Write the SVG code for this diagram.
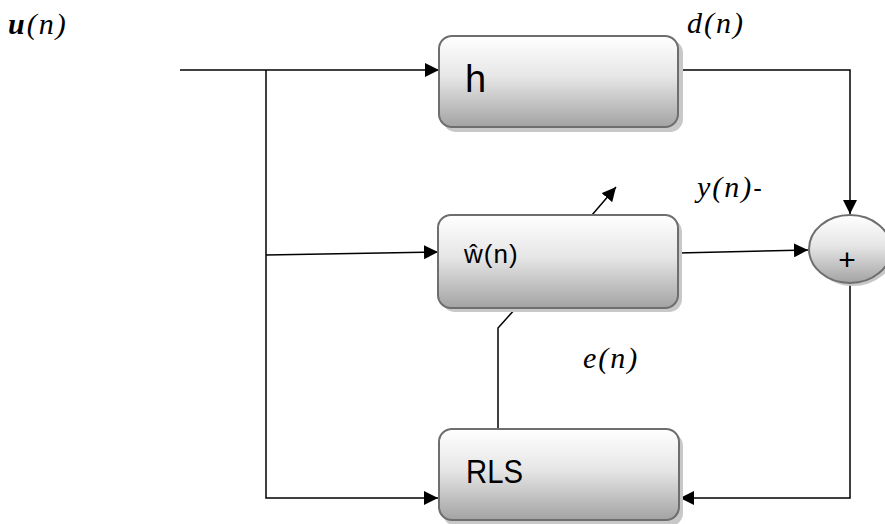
<svg xmlns="http://www.w3.org/2000/svg" width="885" height="524" viewBox="0 0 885 524">
<defs>
<linearGradient id="g" x1="0" y1="0" x2="0" y2="1">
<stop offset="0" stop-color="#ffffff"/>
<stop offset="0.45" stop-color="#e6e6e6"/>
<stop offset="1" stop-color="#a3a3a3"/>
</linearGradient>
<marker id="b" viewBox="0 0 10 10" refX="10" refY="5" markerWidth="14" markerHeight="14" markerUnits="userSpaceOnUse" orient="auto"><path d="M0,0L10,5L0,10z" fill="#000"/></marker>
</defs>
<style>
.box{fill:url(#g);stroke:#6e6e6e;stroke-width:2}
.sh{fill:#c8c8c8}
.ln{fill:none;stroke:#000;stroke-width:1.5}
.lbl{font-family:"Liberation Sans",Arial,sans-serif;fill:#000}
.m{font-family:"Liberation Serif","Times New Roman",serif;font-style:italic;font-size:30px;letter-spacing:2px;fill:#000}
</style>
<g id="connectors">
<path class="ln" d="M180,70H439" marker-end="url(#b)"/>
<path class="ln" d="M266,70V498H438" marker-end="url(#b)"/>
<path class="ln" d="M266,255L438,252" marker-end="url(#b)"/>
<path class="ln" d="M678,70H850V214" marker-end="url(#b)"/>
<path class="ln" d="M678,253L808,250" marker-end="url(#b)"/>
<path class="ln" d="M850,283V498H680" marker-end="url(#b)"/>
<path class="ln" d="M498,429V328L516,308"/>
<path class="ln" d="M592,215L616,187" marker-end="url(#b)"/>
</g>
<g id="h">
<rect class="sh" x="443" y="40" width="240" height="92" rx="13"/>
<rect class="box" x="439" y="36" width="239" height="91" rx="13"/>
<text class="lbl" x="465" y="92" font-size="38">h</text>
</g>
<g id="w">
<rect class="sh" x="442" y="219" width="240" height="93" rx="13"/>
<rect class="box" x="438" y="215" width="240" height="93" rx="13"/>
<text class="lbl" x="464" y="263" font-size="26" letter-spacing="1">ŵ(n)</text>
</g>
<g id="rls">
<rect class="sh" x="443" y="433" width="240" height="93" rx="13"/>
<rect class="box" x="439" y="429" width="240" height="91" rx="13"/>
<text class="lbl" x="466" y="483" font-size="33" textLength="57" lengthAdjust="spacingAndGlyphs">RLS</text>
</g>
<g id="sum">
<ellipse class="sh" cx="853" cy="252" rx="41" ry="34"/>
<ellipse class="box" cx="850" cy="249" rx="41" ry="34"/>
<text class="lbl" x="847" y="270" font-size="30" text-anchor="middle">+</text>
</g>
<g id="labels">
<text class="m" x="8" y="34"><tspan font-weight="bold">u</tspan>(n)</text>
<text class="m" x="687" y="33">d(n)</text>
<text class="m" x="697" y="197">y(n)<tspan font-family="Liberation Sans,Arial,sans-serif" font-style="normal" font-size="26" letter-spacing="0">-</tspan></text>
<text class="m" x="583" y="368">e(n)</text>
</g>
</svg>
